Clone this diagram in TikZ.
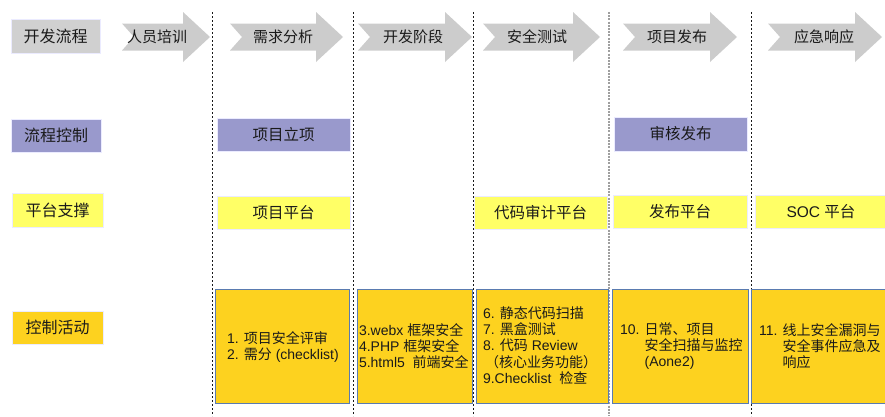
\documentclass[tikz,border=0pt]{standalone}
\usepackage{fontspec}
\setmainfont{Liberation Sans}
\newfontfamily\cjk{Noto Sans CJK SC}
\newcommand\zh[1]{{\cjk #1}}
\definecolor{arrowgray}{HTML}{CCCCCC}
\definecolor{labgray}{HTML}{D0D0D0}
\definecolor{purp}{HTML}{9999CC}
\definecolor{yel}{HTML}{FFFF66}
\definecolor{gold}{HTML}{FDD21F}
\definecolor{bluebd}{HTML}{5A7BB0}
\definecolor{txt}{HTML}{1A1A1A}
\begin{document}
\begin{tikzpicture}[x=1pt,y=-1pt,
  every node/.style={text=txt,inner sep=0pt,outer sep=0pt},
  labbox/.style={draw=white!92!blue,line width=0.8pt,anchor=north west,font=\fontsize{16}{19}\selectfont\cjk},
  cellbox/.style={draw=white!92!blue,line width=0.8pt,anchor=north west,font=\fontsize{15.5}{18}\selectfont},
  actbox/.style={draw=bluebd,line width=0.8pt,fill=gold,anchor=north west},
  acttext/.style={anchor=west,align=left,font=\fontsize{14}{16.3}\selectfont},
  arrtext/.style={font=\fontsize{15}{18}\selectfont\cjk},
  sepline/.style={dash pattern=on 2pt off 2pt,line width=1pt,black!90},
  sepgray/.style={dash pattern=on 2pt off 1.2pt,line width=1.4pt,gray!75}
]
\useasboundingbox (0,0) rectangle (885,416);
% separators
\coordinate (s1t) at (212,12); \coordinate (s1b) at (212,416);
\coordinate (s2t) at (353,12); \coordinate (s2b) at (353,416);
\coordinate (s3t) at (473,12); \coordinate (s3b) at (473,416);
\coordinate (s4t) at (609,12); \coordinate (s4b) at (609,416);
\coordinate (s5t) at (751,12); \coordinate (s5b) at (751,416);
\draw[sepline] (s1t) -- (s1b);
\draw[sepline] (s2t) -- (s2b);
\draw[sepline] (s3t) -- (s3b);
\draw[sepgray] (s4t) -- (s4b);
\draw[sepline] (s5t) -- (s5b);
% arrows
\newcommand\phasearrow[2]{%
  \fill[arrowgray] (#1,23.5) -- (#2-27,23.5) -- (#2-27,12) -- (#2,37) -- (#2-27,62)
    -- (#2-27,50.5) -- (#1,50.5) -- (#1+12,37) -- cycle;}
\phasearrow{122}{210}
\phasearrow{230}{343}
\phasearrow{358}{472}
\phasearrow{483}{600}
\phasearrow{623}{737}
\phasearrow{768}{882}
\node[arrtext] (a1) at (157,37) {人员培训};
\node[arrtext] (a2) at (283,37) {需求分析};
\node[arrtext] (a3) at (413,37) {开发阶段};
\node[arrtext] (a4) at (537,37) {安全测试};
\node[arrtext] (a5) at (677,37) {项目发布};
\node[arrtext] (a6) at (824,37) {应急响应};
% row labels
\node[labbox,fill=labgray,minimum width=89pt,minimum height=34pt] (l1) at (11,19) {开发流程};
\node[labbox,fill=purp,minimum width=90pt,minimum height=33pt] (l2) at (11,119) {流程控制};
\node[labbox,fill=yel,minimum width=91pt,minimum height=34pt] (l3) at (12,193) {平台支撑};
\node[labbox,fill=gold,minimum width=91pt,minimum height=33pt] (l4) at (12,311) {控制活动};
% row 2
\node[cellbox,fill=purp,minimum width=133pt,minimum height=33pt] (c21) at (217,118) {\zh{项目立项}};
\node[cellbox,fill=purp,minimum width=133pt,minimum height=34pt] (c25) at (614,117) {\zh{审核发布}};
% row 3
\node[cellbox,fill=yel,minimum width=133pt,minimum height=33pt] (c31) at (217,196) {\zh{项目平台}};
\node[cellbox,fill=yel,minimum width=133pt,minimum height=33pt] (c33) at (474,196) {\zh{代码审计平台}};
\node[cellbox,fill=yel,minimum width=134pt,minimum height=33pt] (c34) at (613,195) {\zh{发布平台}};
\node[cellbox,fill=yel,minimum width=132pt,minimum height=33pt] (c35) at (755,195) {SOC \zh{平台}};
% row 4
\node[actbox,minimum width=134pt,minimum height=114pt] (b1) at (215,289) {};
\node[actbox,minimum width=115pt,minimum height=114pt] (b2) at (357,289) {};
\node[actbox,minimum width=132pt,minimum height=114pt] (b3) at (476,289) {};
\node[actbox,minimum width=136pt,minimum height=114pt] (b4) at (612,289) {};
\node[actbox,minimum width=136pt,minimum height=114pt] (b5) at (751,289) {};
\node[acttext] (t1) at (227,347) {1. \zh{项目安全评审}\\2. \zh{需分} (checklist)};
\node[acttext] (t2) at (359,346) {3.webx \zh{框架安全}\\4.PHP \zh{框架安全}\\5.html5\ \ \zh{前端安全}};
\node[acttext] (t3) at (483,345.5) {6. \zh{静态代码扫描}\\7. \zh{黑盒测试}\\8. \zh{代码} Review\\\hspace*{2pt}\zh{（核心业务功能）}\\9.Checklist\ \ \zh{检查}};
\node[acttext] (t4) at (620,346) {10. \zh{日常、项目}\\\phantom{10. }\zh{安全扫描与监控}\\\phantom{10. }(Aone2)};
\node[acttext] (t5) at (759,346) {11. \zh{线上安全漏洞与}\\\phantom{11. }\zh{安全事件应急及}\\\phantom{11. }\zh{响应}};
\end{tikzpicture}
\end{document}
